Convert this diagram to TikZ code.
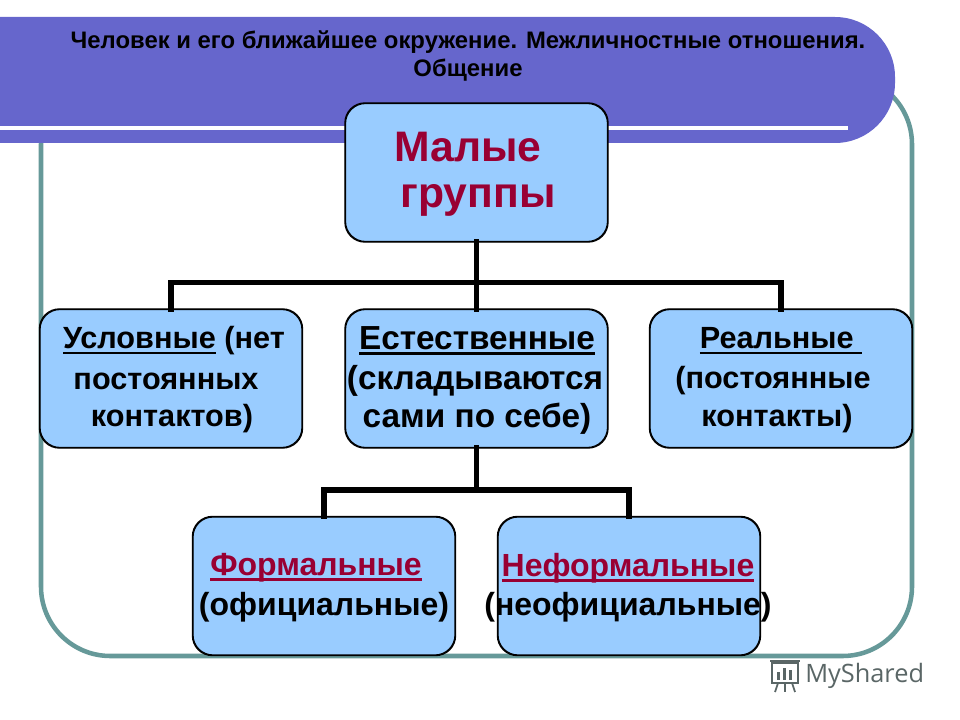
\documentclass[tikz,border=0pt]{standalone}
\usepackage{fontspec}
\setmainfont{Liberation Sans}
\newfontfamily\logofont{Open Sans}
\newcommand\myul[1]{\setbox0\hbox{#1}\leavevmode\rlap{\rule[-4pt]{\wd0}{2pt}}\box0\relax}
\definecolor{banner}{HTML}{6666CC}
\definecolor{boxfill}{HTML}{99CCFF}
\definecolor{darkred}{HTML}{990033}
\definecolor{frame}{HTML}{669999}
\definecolor{logogray}{HTML}{5A6666}
\tikzset{
  grpbox/.style={draw=black, line width=0.9pt, fill=boxfill, rounded corners=15pt,
    minimum width=262*0.75pt, minimum height=138*0.75pt, inner sep=0pt},
  bigtxt/.style={font=\bfseries\fontsize{32}{36}\selectfont, text=darkred, inner sep=0pt},
  boxtxt/.style={font=\bfseries\fontsize{24}{28}\selectfont, inner sep=0pt},
  smalltxt/.style={font=\bfseries\fontsize{23}{28}\selectfont, inner sep=0pt},
  widetxt/.style={font=\bfseries\fontsize{25}{28}\selectfont, inner sep=0pt},
  redtxt/.style={boxtxt, text=darkred},
  titletxt/.style={font=\bfseries\fontsize{17.9}{20}\selectfont, inner sep=0pt},
  conn/.style={line width=4.4pt, line cap=rect},
}
\begin{document}
\begin{tikzpicture}[x=0.75pt,y=-0.75pt]
\useasboundingbox (0,0) rectangle (960,720);
\clip (0,0) rectangle (960,720);
% frame
\draw[frame, line width=3.4pt, rounded corners=52pt] (41,75) rectangle (912,656);
% banner
\fill[banner, rounded corners=45pt] (-120,17) rectangle (895,143);
\fill[white] (0,126) rectangle (848,130);
% title
\node[titletxt] (t1) at (468,42) {Человек и его ближайшее окружение. Межличностные отношения.};
\node[titletxt] (t2) at (468,70) {Общение};
% boxes
\node[grpbox] (m) at (476.5,172.5) {};
\node[grpbox] (u) at (171,378.5) {};
\node[grpbox] (e) at (476.5,378.5) {};
\node[grpbox] (r) at (781,378.5) {};
\node[grpbox] (f) at (324,586) {};
\node[grpbox] (n) at (629,586) {};
% connectors
\coordinate (j1) at (476.5,282.5);
\coordinate (j2) at (476.5,490);
\draw[conn] (m.south) -- (e.north);
\draw[conn] (u.north) |- (j1) -| (r.north);
\draw[conn] (e.south) -- (j2);
\draw[conn] (f.north) |- (j2) -| (n.north);
% redraw box borders over connector ends
\foreach \b in {m,u,e,r,f,n} \draw[line width=0.9pt, rounded corners=15pt] (\b.north west) rectangle (\b.south east);
% texts
\node[bigtxt] (mt1) at (468,147) {Малые};
\node[bigtxt] (mt2) at (478,200) {группы};
\node[smalltxt] (u1) at (174,341) {\myul{Условные} (нет};
\node[smalltxt] (u2) at (166,381) {постоянных};
\node[smalltxt] (u3) at (172,419) {контактов)};
\node[widetxt] (e1) at (477,341) {\myul{Естественные}};
\node[widetxt] (e2) at (475,381) {(складываются};
\node[widetxt] (e3) at (477,419) {сами по себе)};
\node[smalltxt] (r1) at (781,341) {\myul{Реальные\ }};
\node[smalltxt] (r2) at (773,381) {(постоянные};
\node[smalltxt] (r3) at (777,419) {контакты)};
\node[redtxt] (f1) at (316,568) {\myul{Формальные}};
\node[boxtxt] (f2) at (324,607) {(официальные)};
\node[redtxt] (n1) at (628,568) {\myul{Неформальные}};
\node[boxtxt] (n2) at (628,607) {(неофициальные)};
% logo
\begin{scope}[logogray, line width=1.3pt]
  \draw (772,663) rectangle (798,683);
  \draw (770,661) -- (800,661);
  \fill (777,672) rectangle (780,680);
  \fill (783,668) rectangle (786,680);
  \fill (789,670) rectangle (792,680);
  \draw (778,683) -- (775,692);
  \draw (785,683) -- (785,692);
  \draw (792,683) -- (795,692);
\end{scope}
\node[font=\logofont\fontsize{19}{22}\selectfont, text=logogray, anchor=west, inner sep=0pt] (logo) at (805,676) {MyShared};
\end{tikzpicture}
\end{document}
